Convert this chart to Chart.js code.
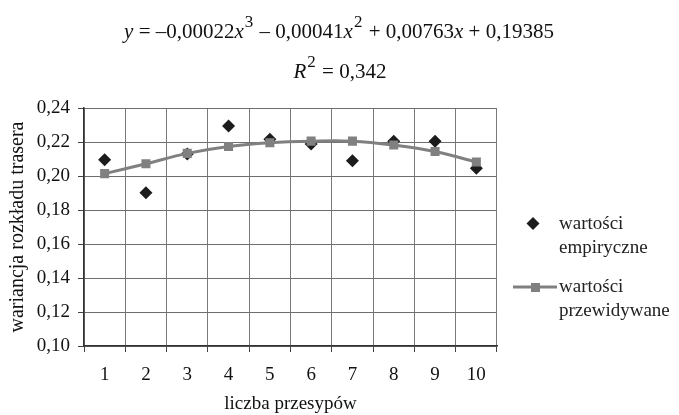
<!DOCTYPE html>
<html>
<head>
<meta charset="utf-8">
<script src="https://cdn.jsdelivr.net/npm/chart.js@4/dist/chart.umd.min.js"></script>
<style>
  body { margin: 0; background: #fff; }
  #wrap { width: 679px; height: 415px; position: relative; }
</style>
</head>
<body>
<div id="wrap"><canvas id="chart"></canvas></div>
<script>
const categories = ['1', '2', '3', '4', '5', '6', '7', '8', '9', '10'];
const empirical = [0.2096, 0.1902, 0.2129, 0.2294, 0.2216, 0.2188, 0.2090, 0.2204, 0.2204, 0.2046];
const predicted = [0.2014, 0.2072, 0.2133, 0.2174, 0.2196, 0.2205, 0.2205, 0.2182, 0.2144, 0.2082];
const yMin = 0.10, yMax = 0.24, yStep = 0.02;
const seriesNames = [['wartości', 'empiryczne'], ['wartości', 'przewidywane']];
const equationLine = [['y', 'i'], [' = –0,00022', 'n'], ['x', 'i'], ['3', 's'], [' – 0,00041', 'n'], ['x', 'i'], ['2', 's'],
                      [' + 0,00763', 'n'], ['x', 'i'], [' + 0,19385', 'n']];
const r2Line = [['R', 'i'], ['2', 's'], [' = 0,342', 'n']];

const serif = "'Liberation Serif', 'Times New Roman', serif";
const darkMark = '#1c1c1c';
const greyLine = '#808080';

// equation text above the plot, with raised exponents
const equationPlugin = {
    id: 'equation',
    afterDraw(chart) {
        const ctx = chart.ctx;
        const fontFor = s => s === 'i' ? `italic 21px ${serif}` : s === 's' ? `17px ${serif}` : `21px ${serif}`;
        function drawRuns(runs, cx, baseline) {
            ctx.save();
            ctx.fillStyle = '#111';
            ctx.textBaseline = 'alphabetic';
            ctx.textAlign = 'left';
            let total = 0;
            runs.forEach(([t, s]) => { ctx.font = fontFor(s); total += ctx.measureText(t).width + (s === 's' ? 2 : 0); });
            let x = cx - total / 2;
            runs.forEach(([t, s]) => {
                ctx.font = fontFor(s);
                ctx.fillText(t, x + (s === 's' ? 1 : 0), s === 's' ? baseline - 11 : baseline);
                x += ctx.measureText(t).width + (s === 's' ? 2 : 0);
            });
            ctx.restore();
        }
        drawRuns(equationLine, 339, 38);
        drawRuns(r2Line, 340, 78);
    }
};

// legend on the right, two-line labels
const sideLegend = {
    id: 'sideLegend',
    afterDraw(chart) {
        const ctx = chart.ctx;
        ctx.save();
        ctx.font = `19px ${serif}`;
        ctx.textBaseline = 'middle';
        // diamond
        ctx.fillStyle = darkMark;
        ctx.beginPath();
        ctx.moveTo(533, 217); ctx.lineTo(539.5, 223.5); ctx.lineTo(533, 230); ctx.lineTo(526.5, 223.5);
        ctx.closePath(); ctx.fill();
        ctx.fillStyle = '#222';
        ctx.fillText(seriesNames[0][0], 559, 224);
        ctx.fillText(seriesNames[0][1], 559, 248);
        // line + square
        ctx.strokeStyle = greyLine;
        ctx.lineWidth = 3;
        ctx.beginPath(); ctx.moveTo(513, 287); ctx.lineTo(557, 287); ctx.stroke();
        ctx.fillStyle = greyLine;
        ctx.fillRect(531, 283, 9, 9);
        ctx.fillStyle = '#222';
        ctx.fillText(seriesNames[1][0], 559, 287);
        ctx.fillText(seriesNames[1][1], 559, 311);
        ctx.restore();
    }
};

new Chart(document.getElementById('chart'), {
    type: 'line',
    data: {
        labels: categories,
        datasets: [{
            label: 'wartości empiryczne',
            data: empirical,
            showLine: false,
            pointStyle: 'rectRot',
            pointRadius: 6.5,
            pointBackgroundColor: darkMark,
            pointBorderColor: darkMark,
            pointBorderWidth: 0,
            order: 2
        }, {
            label: 'wartości przewidywane',
            data: predicted,
            borderColor: greyLine,
            borderWidth: 3,
            pointStyle: 'rect',
            pointRadius: 6.4,
            pointBackgroundColor: greyLine,
            pointBorderColor: greyLine,
            pointBorderWidth: 0,
            tension: 0.4,
            order: 1
        }]
    },
    options: {
        responsive: true,
        maintainAspectRatio: false,
        animation: false,
        layout: { padding: { top: 108, right: 182, left: 6, bottom: 0 } },
        plugins: {
            legend: { display: false },
            tooltip: { enabled: false }
        },
        scales: {
            x: {
                type: 'category',
                offset: true,
                afterFit: s => { s.height = 69; },
                grid: { offset: true, color: '#7a7a7a', lineWidth: 1, tickLength: 6, tickColor: '#444' },
                border: { color: '#333', width: 1.5 },
                ticks: { color: '#111', font: { family: serif, size: 19 }, padding: 12, maxRotation: 0 },
                title: { display: true, text: 'liczba przesypów', color: '#111', font: { family: serif, size: 19 }, padding: { top: 0, bottom: 0 } }
            },
            y: {
                min: yMin,
                max: yMax,
                afterFit: s => { s.width = 78; },
                grid: { color: '#6e6e6e', lineWidth: 1, tickLength: 6, tickColor: '#444' },
                border: { color: '#333', width: 1.5 },
                ticks: {
                    stepSize: yStep,
                    color: '#111',
                    font: { family: serif, size: 19 },
                    padding: 8,
                    callback: v => v.toFixed(2).replace('.', ',')
                },
                title: { display: true, text: 'wariancja rozkładu trasera', color: '#111', font: { family: serif, size: 20 }, padding: 0 }
            }
        }
    },
    plugins: [equationPlugin, sideLegend]
});
</script>
</body>
</html>
